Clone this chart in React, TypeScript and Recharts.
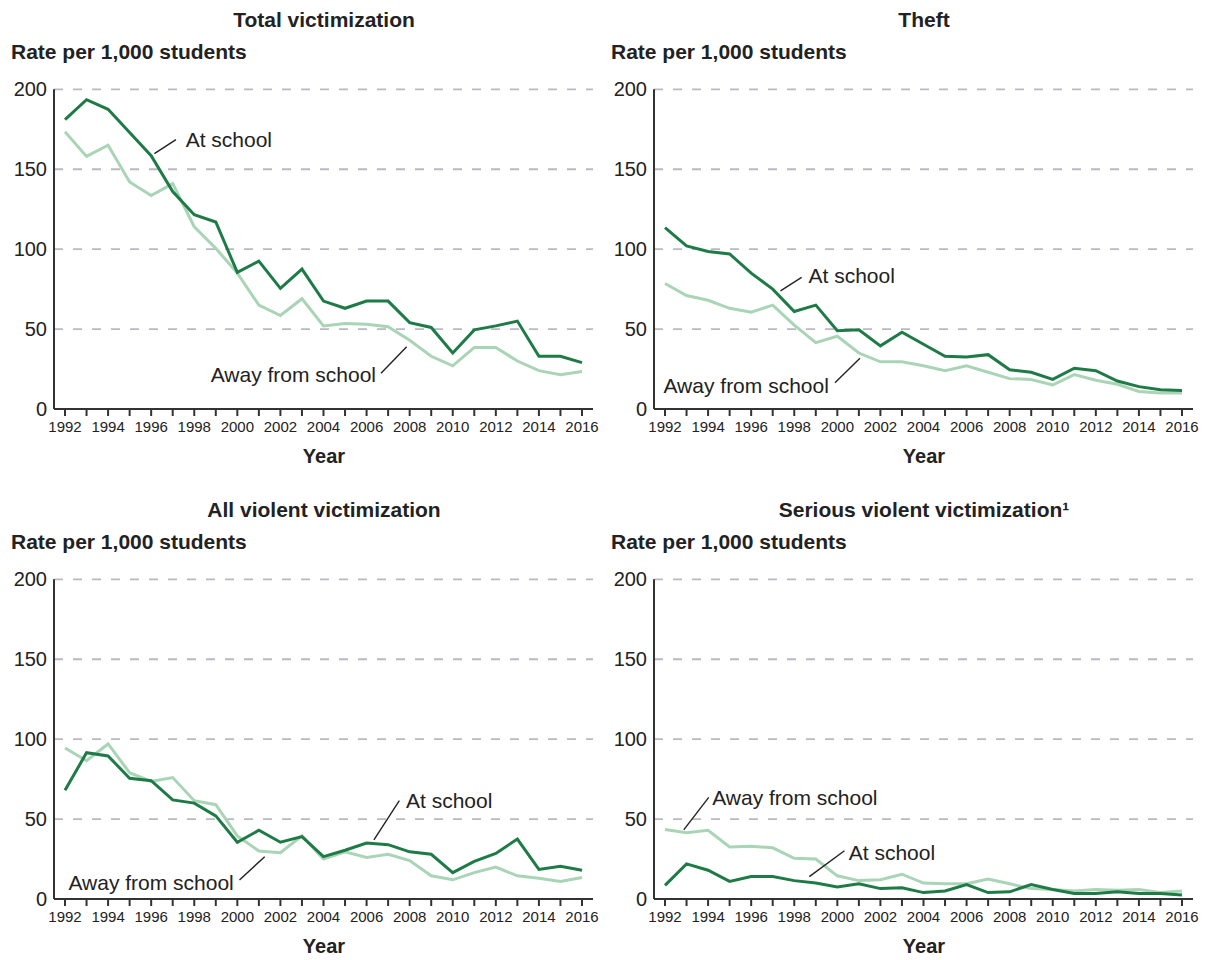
import React from "react";
import {
  LineChart,
  Line,
  XAxis,
  YAxis,
  CartesianGrid,
  ReferenceLine,
  ReferenceDot,
} from "recharts";

const years = [
  1992, 1993, 1994, 1995, 1996, 1997, 1998, 1999, 2000, 2001, 2002, 2003, 2004,
  2005, 2006, 2007, 2008, 2009, 2010, 2011, 2012, 2013, 2014, 2015, 2016,
];
const yTicks = [0, 50, 100, 150, 200];

const totalAt = [181, 193.5, 187.5, 173, 158.5, 136, 121.5, 117, 85.5, 92.5, 75.5, 87.5, 67.5, 63, 67.5, 67.5, 54, 51, 35, 49.5, 52, 55, 33, 33, 29];
const totalAway = [173.5, 158, 165, 142, 133.5, 141, 114, 100.5, 85, 65, 58.5, 69, 52, 53.5, 53, 51.5, 43, 33, 27, 38.5, 38.5, 30, 24, 21.5, 23.5];
const theftAt = [113.5, 102, 98.5, 97, 85, 75, 61, 65, 49, 49.5, 39.5, 48, 40.5, 33, 32.5, 34, 24.5, 23, 18.5, 25.5, 24, 17.5, 14, 12, 11.5];
const theftAway = [78.5, 71, 68, 63, 60.5, 65, 52.5, 41.5, 45.5, 35, 29.5, 29.5, 27, 24, 27, 23, 19, 18.5, 15, 21.5, 18, 15.5, 11, 10, 10];
const violentAt = [68, 91.5, 89.5, 75.5, 74, 62, 60, 52, 35.5, 43, 35.5, 39, 26.5, 30.5, 35, 34, 29.5, 28, 16.5, 23.5, 28.5, 37.5, 18.5, 20.5, 18];
const violentAway = [94.5, 86.5, 97, 79, 73.5, 76, 61.5, 59, 39.5, 30, 29, 39.5, 25, 29.5, 26, 28, 24, 14.5, 12, 16.5, 20, 14.5, 13, 11, 13.5];
const seriousAt = [8.5, 22, 18, 11, 14, 14, 11.5, 10, 7.5, 9.5, 6.5, 7, 4, 5, 9, 4, 4.5, 9, 6, 3.5, 3.5, 4.5, 3.5, 3.5, 2.5];
const seriousAway = [43.5, 41.5, 43, 32.5, 33, 32, 25.5, 25, 14.5, 11.5, 12, 15.5, 10, 9.5, 9.5, 12.5, 9.5, 6.5, 6, 5, 6, 5.5, 6, 4, 5];

const DARK = "#1e7b46";
const LIGHT = "#a9d5b6";
const FONT = "'Liberation Sans', Arial, Helvetica, sans-serif";

type Note = {
  text: string;
  x: number;
  y: number;
  side: "left" | "right";
  line: [number, number, number, number];
};

type PanelProps = {
  title: React.ReactNode;
  left: number;
  top: number;
  at: number[];
  away: number[];
  notes: Note[];
};

function Panel({ title, left, top, at, away, notes }: PanelProps) {
  const data = years.map((year, i) => ({ year, at: at[i], away: away[i] }));
  return (
    <div style={{ position: "absolute", left, top, width: 600, height: 480 }}>
      <div
        style={{
          position: "absolute", left: 0, top: 8, width: 648, textAlign: "center",
          fontWeight: "bold", fontSize: 21, lineHeight: "24px",
        }}
      >
        {title}
      </div>
      <div
        style={{
          position: "absolute", left: 11, top: 40, fontWeight: "bold",
          fontSize: 21, lineHeight: "24px", whiteSpace: "nowrap",
        }}
      >
        Rate per 1,000 students
      </div>
      <div
        style={{
          position: "absolute", left: 0, top: 444, width: 648, textAlign: "center",
          fontWeight: "bold", fontSize: 20, lineHeight: "24px",
        }}
      >
        Year
      </div>
      <div style={{ position: "absolute", left: 0, top: 0 }}>
        <LineChart
          width={600}
          height={470}
          data={data}
          margin={{ top: 89.3, right: 7, left: 0, bottom: 31 }}
        >
          <CartesianGrid
            horizontal
            vertical={false}
            stroke="#b9b9c3"
            strokeWidth={1.8}
            strokeDasharray="9 10"
          />
          <XAxis
            dataKey="year"
            type="number"
            domain={[1992, 2016]}
            ticks={years}
            interval={0}
            padding={{ left: 11, right: 11 }}
            tickFormatter={(v: number) => (v % 2 === 0 ? String(v) : "")}
            height={30}
            tickSize={7}
            tickMargin={5}
            tick={{ fontSize: 15, fill: "#222" }}
            stroke="#333"
            strokeWidth={2}
          />
          <YAxis
            domain={[0, 200]}
            ticks={yTicks}
            width={54}
            tickLine={false}
            tickSize={0}
            tickMargin={7}
            tick={{ fontSize: 20, fill: "#222" }}
            stroke="#333"
            strokeWidth={2}
          />
          <Line type="linear" dataKey="away" stroke={LIGHT} strokeWidth={3} dot={false} isAnimationActive={false} />
          <Line type="linear" dataKey="at" stroke={DARK} strokeWidth={3} dot={false} isAnimationActive={false} />
          {notes.map((n, i) => (
            <ReferenceLine
              key={"l" + i}
              segment={[{ x: n.line[0], y: n.line[1] }, { x: n.line[2], y: n.line[3] }]}
              stroke="#222"
              strokeWidth={1.4}
              ifOverflow="visible"
            />
          ))}
          {notes.map((n, i) => (
            <ReferenceDot
              key={"d" + i}
              x={n.x}
              y={n.y}
              r={0}
              fill="none"
              stroke="none"
              ifOverflow="visible"
              label={{ value: n.text, position: n.side, offset: 0, fontSize: 21, fill: "#222" }}
            />
          ))}
        </LineChart>
      </div>
    </div>
  );
}

const totalNotes: Note[] = [
  { text: "At school", x: 1997.6, y: 168.3, side: "right", line: [1996.15, 159.8, 1997.15, 168.5] },
  { text: "Away from school", x: 2006.44, y: 21.3, side: "left", line: [2006.67, 22.3, 2007.86, 38.9] },
];
const theftNotes: Note[] = [
  { text: "At school", x: 1998.66, y: 83.8, side: "right", line: [1997.36, 73.9, 1998.34, 82.3] },
  { text: "Away from school", x: 1991.93, y: 14.4, side: "right", line: [1999.89, 16.4, 2001.05, 31.7] },
];
const violentNotes: Note[] = [
  { text: "At school", x: 2007.83, y: 61.5, side: "right", line: [2006.34, 37, 2007.52, 61.6] },
  { text: "Away from school", x: 1992.16, y: 10.4, side: "right", line: [2000.1, 11.9, 2001.27, 26.5] },
];
const seriousNotes: Note[] = [
  { text: "Away from school", x: 1994.19, y: 63.2, side: "right", line: [1992.87, 43.2, 1994.03, 63.6] },
  { text: "At school", x: 2000.53, y: 29.2, side: "right", line: [1998.7, 14, 2000.33, 30.2] },
];

export default function App() {
  return (
    <div
      style={{
        position: "absolute", left: 0, top: 0, width: 1207, height: 960,
        background: "#fff", fontFamily: FONT, color: "#222", overflow: "hidden",
      }}
    >
      <Panel title="Total victimization" left={0} top={0} at={totalAt} away={totalAway} notes={totalNotes} />
      <Panel title="Theft" left={600} top={0} at={theftAt} away={theftAway} notes={theftNotes} />
      <Panel title="All violent victimization" left={0} top={490} at={violentAt} away={violentAway} notes={violentNotes} />
      <Panel title="Serious violent victimization¹" left={600} top={490} at={seriousAt} away={seriousAway} notes={seriousNotes} />
    </div>
  );
}
